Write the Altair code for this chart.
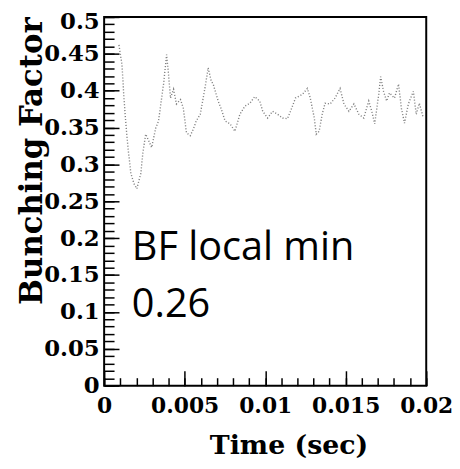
import altair as alt
import pandas as pd

# ---- data ----
time_s = [0.00092, 0.00111, 0.00123, 0.00135, 0.00148, 0.00166, 0.00185, 0.00203,
          0.00228, 0.00240, 0.00258, 0.00277, 0.00295, 0.00320, 0.00338, 0.00357,
          0.00369, 0.00388, 0.00400, 0.00412, 0.00431, 0.00449, 0.00474, 0.00492,
          0.00511, 0.00535, 0.00554, 0.00572, 0.00597, 0.00615, 0.00628, 0.00646,
          0.00665, 0.00677, 0.00708, 0.00726, 0.00751, 0.00782, 0.00812, 0.00843,
          0.00874, 0.00905, 0.00935, 0.00966, 0.00985, 0.01015, 0.01046, 0.01077,
          0.01108, 0.01138, 0.01157, 0.01188, 0.01231, 0.01262, 0.01280, 0.01305,
          0.01317, 0.01335, 0.01354, 0.01372, 0.01403, 0.01434, 0.01465, 0.01489,
          0.01520, 0.01551, 0.01582, 0.01612, 0.01643, 0.01662, 0.01680, 0.01705,
          0.01717, 0.01735, 0.01754, 0.01772, 0.01803, 0.01828, 0.01846, 0.01865,
          0.01889, 0.01920, 0.01938, 0.01957, 0.01982]
bunching = [0.462, 0.435, 0.390, 0.355, 0.323, 0.288, 0.274, 0.267,
            0.288, 0.315, 0.341, 0.332, 0.323, 0.349, 0.359, 0.390,
            0.409, 0.449, 0.422, 0.390, 0.402, 0.382, 0.388, 0.376,
            0.343, 0.339, 0.348, 0.359, 0.368, 0.390, 0.406, 0.431,
            0.413, 0.409, 0.386, 0.376, 0.359, 0.355, 0.345, 0.368,
            0.379, 0.383, 0.392, 0.386, 0.372, 0.363, 0.372, 0.368,
            0.363, 0.362, 0.372, 0.390, 0.395, 0.403, 0.390, 0.363,
            0.341, 0.345, 0.368, 0.383, 0.382, 0.390, 0.403, 0.382,
            0.372, 0.382, 0.368, 0.363, 0.386, 0.372, 0.355, 0.395,
            0.419, 0.399, 0.386, 0.397, 0.390, 0.409, 0.376, 0.356,
            0.382, 0.399, 0.368, 0.383, 0.363]

x_major = [0, 0.005, 0.01, 0.015, 0.02]
y_major = [0, 0.05, 0.1, 0.15, 0.2, 0.25, 0.3, 0.35, 0.4, 0.45]
y_top = [0.5]
x_minor = [i / 1000 for i in range(21)]
y_minor = [i / 100 for i in range(51)]

ann_text = ["BF local min", "0.26"]
ann_t = [0.00172, 0.00172]
ann_bf = [0.1707, 0.0927]

df = pd.DataFrame({"t": time_s, "bf": bunching})
ann = pd.DataFrame({"t": ann_t, "bf": ann_bf, "label": ann_text})

SERIF = "DejaVu Serif"
xscale = alt.Scale(domain=[0, 0.02], nice=False, zero=False)
yscale = alt.Scale(domain=[0, 0.5], nice=False, zero=False)
lab = dict(labelFont=SERIF, labelFontWeight="bold", labelFontSize=23,
           labelColor="black", labelOverlap=False, labelFlush=False)
xlab = dict(lab, labelFontSize=22)

main = alt.Chart(df).mark_line(
    color="#808080", strokeWidth=1.4, strokeDash=[1.1, 1.9]
).encode(
    x=alt.X("t:Q", scale=xscale, axis=alt.Axis(
        orient="bottom", values=x_major, format="~g", offset=-15, tickSize=15,
        tickWidth=1.5, tickColor="black", domain=False, grid=False,
        labelPadding=10, **xlab,
        title="Time (sec)", titleFont=SERIF, titleFontWeight="bold",
        titleFontSize=27, titleColor="black", titleX=186, titleY=83,
        titleAlign="center", titleBaseline="alphabetic")),
    y=alt.Y("bf:Q", scale=yscale, axis=alt.Axis(
        orient="left", values=y_major, format="~g", offset=-15, tickSize=15,
        tickWidth=1.5, tickColor="black", domain=False, grid=False,
        labelPadding=5, **lab,
        title="Bunching Factor", titleFont=SERIF,
        titleFontWeight="bold", titleFontSize=31, titleColor="black",
        titleAngle=270, titleX=-78, titleY=145, titleAlign="center",
        titleBaseline="alphabetic")),
)

minor = alt.Chart(df).mark_line(opacity=0).encode(
    x=alt.X("t:Q", scale=xscale, axis=alt.Axis(
        orient="bottom", values=x_minor, offset=-8, tickSize=8, tickWidth=1.5,
        tickColor="black", domain=False, grid=False, labels=False, title=None)),
    y=alt.Y("bf:Q", scale=yscale, axis=alt.Axis(
        orient="left", values=y_minor, offset=-10, tickSize=10, tickWidth=1.5,
        tickColor="black", domain=False, grid=False, labels=False, title=None)),
)

top_label = alt.Chart(df).mark_line(opacity=0).encode(
    x=alt.X("t:Q", scale=xscale, axis=None),
    y=alt.Y("bf:Q", scale=yscale, axis=alt.Axis(
        orient="left", values=y_top, format="~g", offset=-15, tickSize=15,
        tickWidth=1.5, tickColor="black", domain=False, grid=False,
        labelPadding=5, labelOffset=5, **lab, title=None)),
)

text = alt.Chart(ann).mark_text(
    align="left", baseline="alphabetic", font="Open Sans", fontSize=40, color="black"
).encode(
    x=alt.X("t:Q", scale=xscale, axis=None),
    y=alt.Y("bf:Q", scale=yscale, axis=None),
    text="label:N",
)

chart = alt.layer(main, minor, top_label, text).resolve_axis(
    x="independent", y="independent"
).properties(
    width=325, height=372,
    autosize=alt.AutoSizeParams(type="none"),
    padding={"left": 97, "top": 7, "right": 26, "bottom": 74},
).configure_view(stroke="black", strokeWidth=2).configure_axis(grid=False)

chart.save("out.html", embed_options={"renderer": "svg", "actions": False})
